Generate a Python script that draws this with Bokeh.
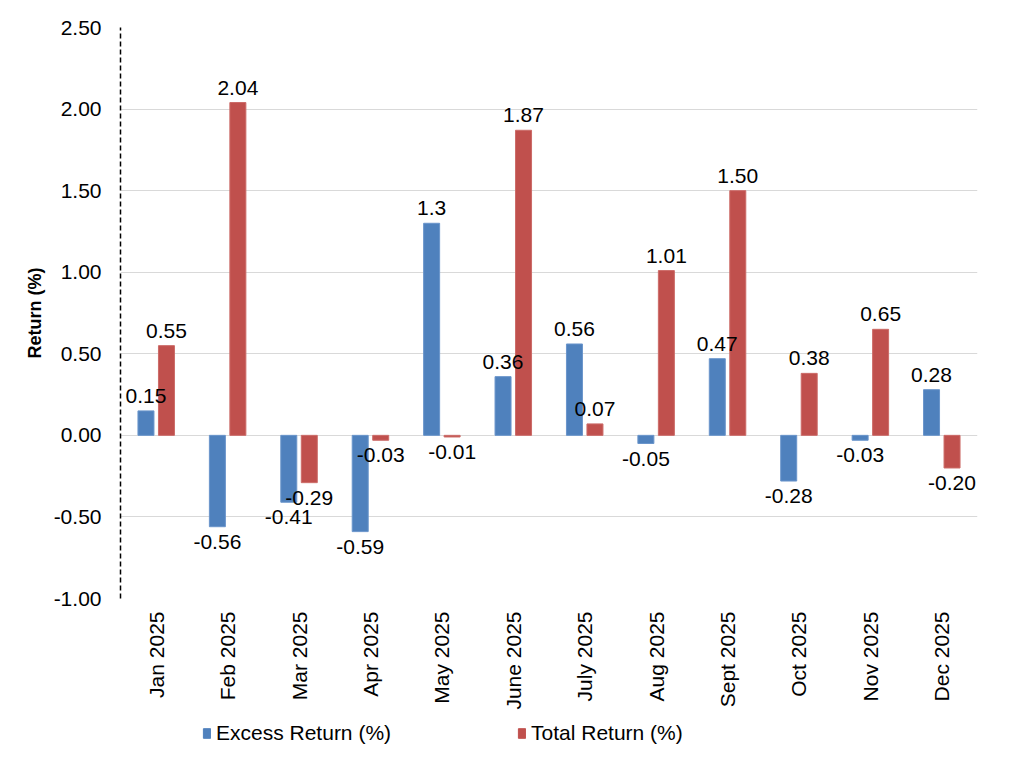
from bokeh.plotting import figure
from bokeh.layouts import column
from bokeh.models import ColumnDataSource, FactorRange, FixedTicker, PrintfTickFormatter, Legend, LegendItem, Range1d
from bokeh.transform import dodge
from bokeh.core.properties import value
from bokeh.embed import file_html
from bokeh.resources import INLINE

months = ["Jan 2025", "Feb 2025", "Mar 2025", "Apr 2025", "May 2025", "June 2025",
          "July 2025", "Aug 2025", "Sept 2025", "Oct 2025", "Nov 2025", "Dec 2025"]
excess = [0.15, -0.56, -0.41, -0.59, 1.3, 0.36, 0.56, -0.05, 0.47, -0.28, -0.03, 0.28]
total = [0.55, 2.04, -0.29, -0.03, -0.01, 1.87, 0.07, 1.01, 1.50, 0.38, 0.65, -0.20]
excess_labels = ["0.15", "-0.56", "-0.41", "-0.59", "1.3", "0.36", "0.56", "-0.05", "0.47", "-0.28", "-0.03", "0.28"]
total_labels = ["0.55", "2.04", "-0.29", "-0.03", "-0.01", "1.87", "0.07", "1.01", "1.50", "0.38", "0.65", "-0.20"]
series_names = ["Excess Return (%)", "Total Return (%)"]
y_ticks = [-1.0, -0.5, 0.0, 0.5, 1.0, 1.5, 2.0, 2.5]

FONT = "Liberation Sans"
BLUE = "#4F81BD"
RED = "#C0504D"

def baselines(vals):
    return ["bottom" if v >= 0 else "top" for v in vals]

def offsets(vals):
    return [-8 if v >= 0 else 8 for v in vals]

src = ColumnDataSource(dict(
    months=months, excess=excess, total=total,
    el=excess_labels, tl=total_labels,
    eb=baselines(excess), tb=baselines(total),
    eo=offsets(excess), to=offsets(total),
))

p = figure(x_range=FactorRange(*months), y_range=(-1.0, 2.5),
           width=1008, height=710, frame_width=857, frame_height=571,
           min_border_left=120, min_border_right=31, min_border_top=27, min_border_bottom=112,
           output_backend="svg", toolbar_location=None, tools="")

r1 = p.vbar(x=dodge("months", -0.1435, range=p.x_range), top="excess", bottom=0, width=0.224,
            source=src, fill_color=BLUE, line_color="#6A95CB", line_width=1)
r2 = p.vbar(x=dodge("months", 0.1435, range=p.x_range), top="total", bottom=0, width=0.224,
            source=src, fill_color=RED, line_color="#CC6B68", line_width=1)

p.text(x=dodge("months", -0.1435, range=p.x_range), y="excess", text="el", source=src,
       text_align="center", text_baseline="eb", y_offset="eo",
       text_font=value(FONT), text_font_size="21px", text_color="#000000")
p.text(x=dodge("months", 0.1435, range=p.x_range), y="total", text="tl", source=src,
       text_align="center", text_baseline="tb", y_offset="to",
       text_font=value(FONT), text_font_size="21px", text_color="#000000")

p.outline_line_color = None
p.xgrid.grid_line_color = None
p.ygrid.grid_line_color = "#d9d9d9"
p.ygrid.grid_line_width = 1
p.ygrid.ticker = FixedTicker(ticks=y_ticks)

p.yaxis.ticker = FixedTicker(ticks=y_ticks)
p.yaxis.formatter = PrintfTickFormatter(format="%.2f")
p.yaxis.axis_line_dash = "5 3"
p.yaxis.axis_line_width = 1.5
p.yaxis.axis_line_color = "#000000"
p.yaxis.major_tick_line_color = None
p.yaxis.minor_tick_line_color = None
p.yaxis.major_tick_out = 0
p.yaxis.minor_tick_out = 0
p.yaxis.major_label_standoff = 19
p.yaxis.major_label_text_font = FONT
p.yaxis.major_label_text_font_size = "21px"
p.yaxis.major_label_text_color = "#000000"
p.yaxis.axis_label = "Return (%)"
p.yaxis.axis_label_text_font = FONT
p.yaxis.axis_label_text_font_style = "bold"
p.yaxis.axis_label_text_font_size = "18px"
p.yaxis.axis_label_text_color = "#000000"
p.yaxis.axis_label_standoff = 6

p.xaxis.axis_line_color = None
p.xaxis.major_tick_line_color = None
p.xaxis.minor_tick_line_color = None
p.xaxis.major_tick_out = 0
p.xaxis.minor_tick_out = 0
p.xaxis.major_label_orientation = 1.5707963
p.xaxis.major_label_standoff = 13
p.xaxis.major_label_text_font = FONT
p.xaxis.major_label_text_font_size = "21px"
p.xaxis.major_label_text_color = "#000000"

# legend strip below the chart (swatch renderers sit outside the visible range)
lg = figure(width=1008, height=40, x_range=Range1d(0, 1), y_range=Range1d(0, 1),
            min_border=0, output_backend="svg", toolbar_location=None, tools="")
lg.axis.visible = False
lg.grid.visible = False
lg.outline_line_color = None
swatch = ColumnDataSource(dict(x=[-5], top=[-5]))
d1 = lg.vbar(x="x", top="top", bottom=-6, width=0.1, source=swatch, fill_color=BLUE, line_color=BLUE)
d2 = lg.vbar(x="x", top="top", bottom=-6, width=0.1, source=swatch, fill_color=RED, line_color=RED)
legend = Legend(items=[LegendItem(label=series_names[0], renderers=[d1]),
                       LegendItem(label=series_names[1], renderers=[d2])],
                orientation="horizontal", location=(82, 7),
                glyph_width=9, glyph_height=12, label_standoff=5, spacing=126,
                padding=0, margin=0, border_line_color=None, background_fill_alpha=0,
                label_text_font=FONT, label_text_font_size="21px", label_text_color="#000000")
lg.add_layout(legend, "center")

layout = column(p, lg, spacing=0)
open("out.html", "w").write(file_html(layout, INLINE))
